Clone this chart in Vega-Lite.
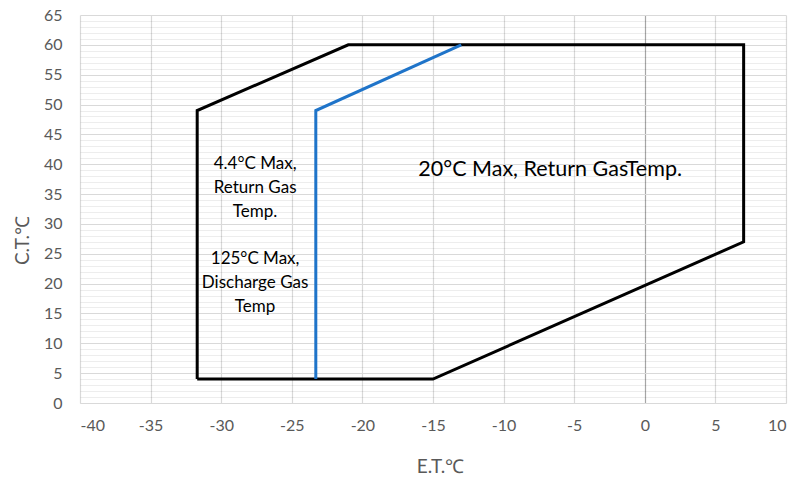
{
  "$schema": "https://vega.github.io/schema/vega-lite/v6.json",
  "width": 706,
  "height": 388,
  "autosize": {"type": "none"},
  "padding": {"left": 80, "top": 15, "right": 22, "bottom": 76},
  "background": "white",
  "config": {
    "view": {"stroke": null},
    "font": "Lato",
    "axis": {"labelFont": "Lato", "titleFont": "Lato", "labelColor": "#595959", "titleColor": "#595959", "labelFontSize": 16, "titleFontSize": 19, "titleFontWeight": "normal"}
  },
  "datasets": {
    "lines": [
      {"series": "envelope", "order": 1, "et": -31.7, "ct": 4},
      {"series": "envelope", "order": 2, "et": -31.7, "ct": 49},
      {"series": "envelope", "order": 3, "et": -21, "ct": 60},
      {"series": "envelope", "order": 4, "et": 7, "ct": 60},
      {"series": "envelope", "order": 5, "et": 7, "ct": 27},
      {"series": "envelope", "order": 6, "et": -15, "ct": 4},
      {"series": "envelope", "order": 7, "et": -31.7, "ct": 4},
      {"series": "limit", "order": 1, "et": -23.3, "ct": 4},
      {"series": "limit", "order": 2, "et": -23.3, "ct": 49},
      {"series": "limit", "order": 3, "et": -13, "ct": 60}
    ],
    "labels": [
      {"et": -27.6, "ct": 40.1, "label": "4.4°C Max,\nReturn Gas\nTemp.", "size": 17},
      {"et": -27.6, "ct": 24.2, "label": "125°C Max,\nDischarge Gas\nTemp", "size": 17},
      {"et": -6.7, "ct": 39, "label": "20°C Max, Return GasTemp.", "size": 21.5}
    ]
  },
  "layer": [
    {
      "data": {"name": "labels"},
      "mark": {"type": "text", "lineBreak": "\n", "lineHeight": 24, "color": "#000000", "font": "Lato", "align": "center", "baseline": "middle"},
      "encoding": {
        "x": {"field": "et", "type": "quantitative", "scale": {"domain": [-40, 10], "nice": false},
          "axis": {"values": [-40,-35,-30,-25,-20,-15,-10,-5,0,5,10], "labelExpr": "'' + datum.value", "title": "E.T.℃", "titleX": 360, "titlePadding": 24, "labelPadding": 14, "ticks": false, "domain": false, "grid": true,
            "gridColor": {"condition": {"test": "datum.value === 0", "value": "#a6a6a6"}, "value": "#d9d9d9"}, "gridWidth": 1.2}},
        "y": {"field": "ct", "type": "quantitative", "scale": {"domain": [0, 65], "nice": false},
          "axis": {"orient": "left", "values": [0,1,2,3,4,6,7,8,9,11,12,13,14,16,17,18,19,21,22,23,24,26,27,28,29,31,32,33,34,36,37,38,39,41,42,43,44,46,47,48,49,51,52,53,54,56,57,58,59,61,62,63,64], "labels": false, "ticks": false, "domain": false, "grid": true, "gridColor": "#000000", "gridOpacity": 0.07, "gridWidth": 1, "title": null}},
        "text": {"field": "label"},
        "size": {"field": "size", "type": "quantitative", "scale": null}
      }
    },
    {
      "data": {"name": "lines"},
      "mark": {"type": "line", "strokeWidth": 3},
      "encoding": {
        "x": {"field": "et", "type": "quantitative", "scale": {"domain": [-40, 10], "nice": false},
          "axis": {"values": [-40,-35,-30,-25,-20,-15,-10,-5,0,5,10], "labelExpr": "'' + datum.value", "title": "E.T.℃", "titleX": 360, "titlePadding": 24, "labelPadding": 14, "ticks": false, "domain": false, "grid": true,
            "gridColor": {"condition": {"test": "datum.value === 0", "value": "#a6a6a6"}, "value": "#d9d9d9"}, "gridWidth": 1.2}},
        "y": {"field": "ct", "type": "quantitative", "scale": {"domain": [0, 65], "nice": false},
          "axis": {"orient": "left", "values": [0,5,10,15,20,25,30,35,40,45,50,55,60,65], "title": "C.T.℃", "titleX": -58, "titleY": 225, "titleAngle": -90, "titleBaseline": "middle", "titleAlign": "center", "labelPadding": 18, "ticks": false, "domain": false, "grid": true, "gridColor": "#d9d9d9", "gridWidth": 1.2}},
        "order": {"field": "order", "type": "quantitative"},
        "detail": {"field": "series"},
        "color": {"field": "series", "type": "nominal", "scale": {"domain": ["envelope", "limit"], "range": ["#000000", "#1f74c9"]}, "legend": null}
      }
    }
  ],
  "resolve": {"axis": {"y": "independent"}}
}
